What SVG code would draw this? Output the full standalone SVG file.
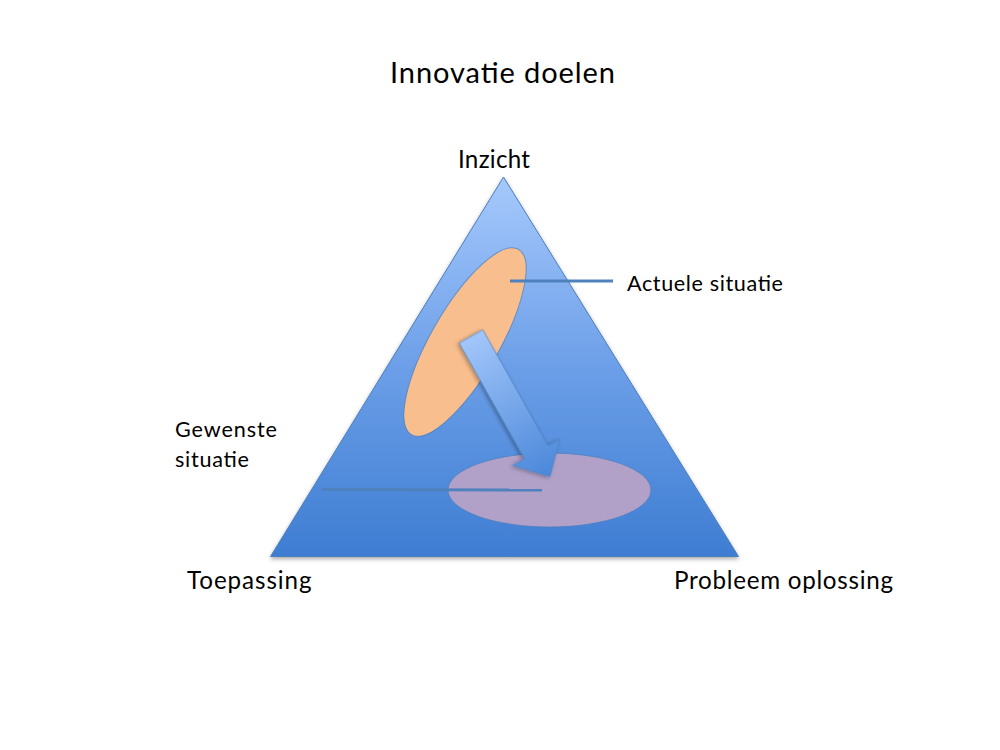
<svg xmlns="http://www.w3.org/2000/svg" width="1000" height="750" viewBox="0 0 1000 750">
  <style>
    .lbl { font-family: Lato, "Liberation Sans", sans-serif; fill: #000; }
    .conn { stroke: #4f81bd; stroke-width: 3; fill: none; stroke-linecap: butt; }
  </style>
  <defs>
    <linearGradient id="triGrad" x1="0" y1="0" x2="0" y2="1">
      <stop offset="0" stop-color="#a6c9fc"/>
      <stop offset="0.5" stop-color="#6c9fe8"/>
      <stop offset="1" stop-color="#3e7dd2"/>
    </linearGradient>
    <linearGradient id="arrowGrad" x1="0" y1="0" x2="1" y2="0">
      <stop offset="0" stop-color="#a2c6fa"/>
      <stop offset="1" stop-color="#4a87d9"/>
    </linearGradient>
    <filter id="shadow" x="-20%" y="-20%" width="140%" height="140%">
      <feDropShadow dx="0" dy="2" stdDeviation="2" flood-color="#000" flood-opacity="0.35"/>
    </filter>
  </defs>
  <rect width="1000" height="750" fill="#ffffff"/>

  <g id="title">
    <text class="lbl" x="390" y="82.5" font-size="29" textLength="225">Innovatie doelen</text>
  </g>

  <g id="triangle">
    <polygon points="503.5,177 270.5,556.5 738.5,556.5" fill="url(#triGrad)" stroke="#4a7ebb" stroke-width="1" filter="url(#shadow)"/>
  </g>

  <g id="actuele-situatie-ellipse">
    <ellipse cx="465" cy="342" rx="107" ry="34" transform="rotate(-60 465 342)" fill="#f9be8e" stroke="#4a7ebb" stroke-width="1" stroke-opacity="0.7"/>
  </g>

  <g id="gewenste-situatie-ellipse">
    <ellipse cx="549.5" cy="490" rx="101.5" ry="37" fill="#b1a1c9" stroke="#4a7ebb" stroke-width="1" stroke-opacity="0.7"/>
  </g>

  <g id="arrow">
    <polygon points="0,-13.5 133,-13.5 133,-27 161,0 133,27 133,13.5 0,13.5" transform="translate(471 336.4) rotate(60.6)" fill="url(#arrowGrad)" stroke="#4a7ebb" stroke-width="1" stroke-opacity="0.6" filter="url(#shadow)"/>
  </g>

  <g id="connectors">
    <line class="conn" x1="510" y1="281" x2="613" y2="281"/>
    <line class="conn" x1="322" y1="489.5" x2="542" y2="490"/>
  </g>

  <g id="label-inzicht">
    <text class="lbl" x="458" y="168" font-size="24.2" textLength="72">Inzicht</text>
  </g>
  <g id="label-actuele">
    <text class="lbl" x="627" y="291" font-size="21.6" textLength="156">Actuele situatie</text>
  </g>
  <g id="label-gewenste">
    <text class="lbl" x="175" y="437" font-size="21.6" textLength="102">Gewenste</text>
    <text class="lbl" x="175" y="467" font-size="21.6" textLength="74">situatie</text>
  </g>
  <g id="label-toepassing">
    <text class="lbl" x="187" y="589" font-size="24.2" textLength="124.5">Toepassing</text>
  </g>
  <g id="label-probleem">
    <text class="lbl" x="674" y="589" font-size="24.2" textLength="219">Probleem oplossing</text>
  </g>
</svg>
